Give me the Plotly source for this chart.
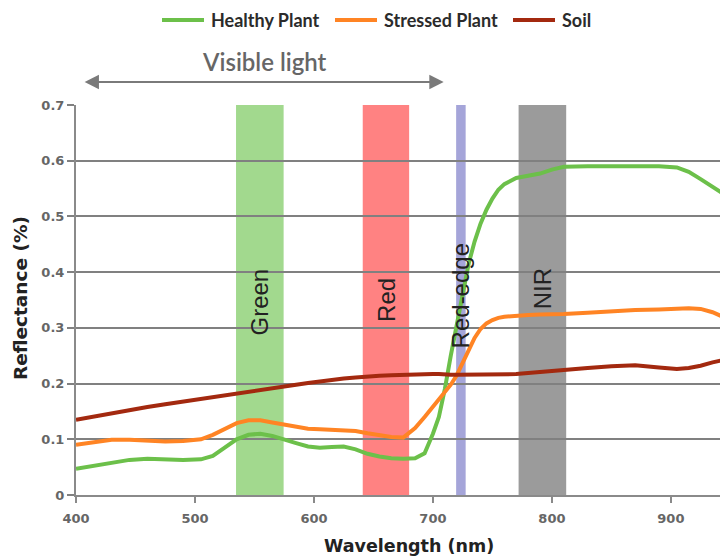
import plotly.graph_objects as go

wavelength = [400, 415, 430, 445, 460, 475, 490, 505, 515, 525, 535, 545, 555, 565, 575,
              585, 595, 605, 615, 625, 635, 645, 655, 665, 675, 685, 693, 700, 705, 710,
              715, 720, 725, 730, 735, 740, 745, 750, 755, 760, 770, 780, 790, 800, 810,
              830, 850, 870, 890, 905, 915, 925, 935, 948]

healthy = [0.047, 0.052, 0.058, 0.063, 0.065, 0.064, 0.063, 0.064, 0.070, 0.085, 0.100,
           0.108, 0.110, 0.106, 0.099, 0.093, 0.087, 0.085, 0.086, 0.087, 0.082, 0.074,
           0.069, 0.066, 0.065, 0.066, 0.075, 0.110, 0.140, 0.190, 0.250, 0.305, 0.365,
           0.415, 0.455, 0.487, 0.512, 0.532, 0.548, 0.558, 0.569, 0.573, 0.577, 0.584,
           0.589, 0.590, 0.590, 0.590, 0.590, 0.588, 0.580, 0.567, 0.553, 0.535]

stressed = [0.090, 0.095, 0.099, 0.099, 0.097, 0.096, 0.097, 0.100, 0.108, 0.119, 0.129,
            0.134, 0.134, 0.130, 0.126, 0.122, 0.119, 0.118, 0.117, 0.117, 0.115, 0.111,
            0.108, 0.104, 0.103, 0.120, 0.140, 0.158, 0.172, 0.185, 0.198, 0.215, 0.238,
            0.262, 0.282, 0.298, 0.308, 0.314, 0.318, 0.320, 0.322, 0.323, 0.324, 0.324,
            0.325, 0.327, 0.330, 0.332, 0.333, 0.335, 0.335, 0.334, 0.328, 0.316]

soil = [0.135, 0.141, 0.147, 0.152, 0.158, 0.163, 0.168, 0.172, 0.175, 0.179, 0.182,
        0.186, 0.189, 0.192, 0.195, 0.198, 0.201, 0.204, 0.207, 0.209, 0.211, 0.213,
        0.214, 0.215, 0.216, 0.216, 0.216, 0.217, 0.217, 0.216, 0.216, 0.216, 0.216,
        0.216, 0.216, 0.216, 0.216, 0.216, 0.216, 0.216, 0.217, 0.219, 0.221, 0.222,
        0.224, 0.228, 0.231, 0.233, 0.229, 0.226, 0.228, 0.232, 0.238, 0.244]

series_names = ["Healthy Plant", "Stressed Plant", "Soil"]
series_colors = ["#6cc04a", "#ff8424", "#a3290f"]

band_labels = ["Green", "Red", "Red-edge", "NIR"]
band_start = [534.5, 641, 719.5, 772]
band_end = [574.5, 680, 727.5, 812]
band_colors = ["#a2d98e", "#ff8282", "#a5a5d9", "#9b9b9b"]
band_label_x = [554.5, 660.5, 723, 792]
band_label_y = [0.347, 0.35, 0.357, 0.37]

x_ticks = [400, 500, 600, 700, 800, 900]
y_ticks = [0, 0.1, 0.2, 0.3, 0.4, 0.5, 0.6, 0.7]
y_tick_text = ["0", "0.1", "0.2", "0.3", "0.4", "0.5", "0.6", "0.7"]

visible_range = [406, 709]

# layout geometry (page pixels of the plot area in the reference)
PL, PR, PT, PB = 76, 728, 105, 495
def px(xp):
    return (xp - PL) / (PR - PL)
def py(yp):
    return (PB - yp) / (PB - PT)

fig = go.Figure()
for name, vals, col in zip(series_names, [healthy, stressed, soil], series_colors):
    fig.add_trace(go.Scatter(x=wavelength, y=vals, mode="lines", name=name,
                             line=dict(color=col, width=4), showlegend=False))

for x0, x1, c in zip(band_start, band_end, band_colors):
    fig.add_shape(type="rect", xref="x", yref="y", x0=x0, x1=x1, y0=0, y1=0.7,
                  fillcolor=c, line=dict(width=0), layer="below")

for lab, lx, ly in zip(band_labels, band_label_x, band_label_y):
    fig.add_annotation(x=lx, y=ly, xref="x", yref="y", text=lab, showarrow=False,
                       textangle=-90, xanchor="center", yanchor="middle",
                       font=dict(family="Liberation Sans", size=24, color="#222222"))

# legend drawn at the top
legend_line_x = [162, 335, 513]
legend_y = 20
for name, col, lx in zip(series_names, series_colors, legend_line_x):
    fig.add_shape(type="line", xref="paper", yref="paper", x0=px(lx), x1=px(lx + 42),
                  y0=py(legend_y), y1=py(legend_y), line=dict(color=col, width=4))
    fig.add_annotation(x=px(lx + 47), y=py(legend_y), xref="paper", yref="paper",
                       text=name, showarrow=False, xanchor="left", yanchor="middle",
                       font=dict(family="Lato", size=18, color="#2b2b2b", weight="bold"))

# Visible light arrow
fig.add_annotation(x=visible_range[1], y=py(82), xref="x", yref="paper",
                   ax=visible_range[0], ay=0, axref="x", ayref="pixel",
                   text="", showarrow=True, arrowside="end+start", arrowhead=2,
                   arrowsize=1.3, arrowwidth=2.2, arrowcolor="#7a7a7a", standoff=0,
                   startstandoff=0, startarrowhead=2, startarrowsize=1.3)
fig.add_annotation(x=px(264), y=py(62), xref="paper", yref="paper",
                   text="Visible light", showarrow=False, xanchor="center", yanchor="middle",
                   font=dict(family="Lato", size=24, color="#666666", weight=600))

# axis titles
fig.add_annotation(x=px(409), y=py(546), xref="paper", yref="paper", text="Wavelength (nm)",
                   showarrow=False, xanchor="center", yanchor="middle",
                   font=dict(family="DejaVu Sans", size=17.5, color="#222222", weight="bold"))
fig.add_annotation(x=px(20), y=py(298), xref="paper", yref="paper", text="Reflectance (%)",
                   showarrow=False, xanchor="center", yanchor="middle", textangle=-90,
                   font=dict(family="DejaVu Sans", size=18.5, color="#222222", weight="bold"))

# The page body adds an 8px offset, so the figure is 720x548 with matching margins.
fig.update_layout(
    width=720, height=548,
    margin=dict(l=PL - 8, r=0, t=PT - 8, b=548 - (PB - 8)),
    plot_bgcolor="white", paper_bgcolor="white",
    font=dict(family="DejaVu Sans", color="#666666"),
    showlegend=False,
    xaxis=dict(range=[400, 948], tickvals=x_ticks, showgrid=False, showline=True,
               linecolor="#8a8a8a", linewidth=2, ticks="outside", ticklen=6,
               tickcolor="#8a8a8a", tickwidth=1.5, ticklabelstandoff=4,
               tickfont=dict(family="DejaVu Sans", size=13, color="#666666", weight="bold"),
               zeroline=False),
    yaxis=dict(range=[0, 0.7], tickvals=y_ticks, ticktext=y_tick_text, showgrid=True,
               gridcolor="#808080", gridwidth=1.5, showline=True, linecolor="#8a8a8a",
               linewidth=2, ticks="outside", ticklen=7, tickcolor="#808080", tickwidth=1.5,
               ticklabelstandoff=0, zeroline=False,
               tickfont=dict(family="DejaVu Sans", size=13, color="#666666", weight="bold")),
)

fig.write_html("out.html")
